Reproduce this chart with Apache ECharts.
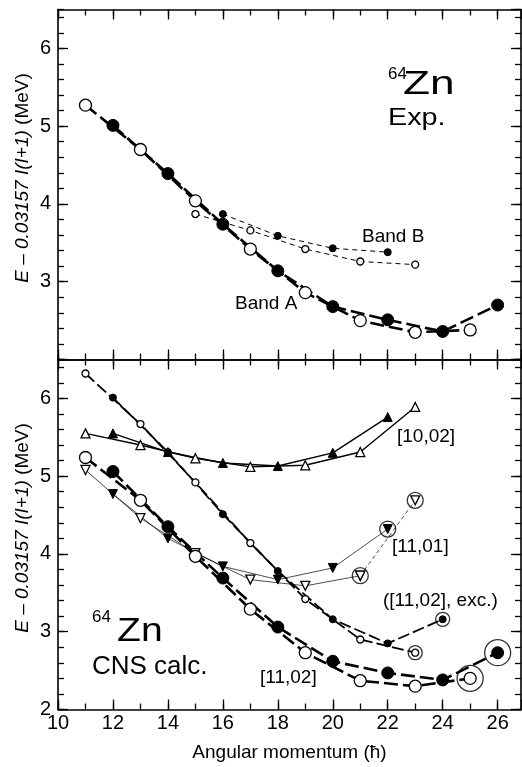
<!DOCTYPE html>
<html lang="en">
<head>
<meta charset="UTF-8">
<title>64Zn bands</title>
<script src="https://cdn.jsdelivr.net/npm/echarts@6.0.0/dist/echarts.min.js"></script>
<style>
  html, body { margin: 0; padding: 0; background: #fff; }
  #main { width: 522px; height: 767px; }
</style>
</head>
<body>
<div id="main"></div>
<script>
// ---- data: spin I and E - 0.03157 I(I+1) in MeV ----
// Exp. (top panel)
var bandA_odd_I = [11, 13, 15, 17, 19, 21, 23, 25];
var bandA_odd_E = [5.27, 4.70, 4.04, 3.42, 2.86, 2.50, 2.35, 2.38];
var bandA_even_I = [12, 14, 16, 18, 20, 22, 24, 26];
var bandA_even_E = [5.01, 4.39, 3.74, 3.14, 2.68, 2.51, 2.36, 2.70];
var bandB_odd_I = [15, 17, 19, 21, 23];
var bandB_odd_E = [3.87, 3.66, 3.42, 3.26, 3.22];
var bandB_even_I = [16, 18, 20, 22];
var bandB_even_E = [3.87, 3.59, 3.43, 3.38];

// CNS calc. (bottom panel)
var c1102_odd_I = [11, 13, 15, 17, 19, 21, 23, 25];
var c1102_odd_E = [5.24, 4.69, 3.97, 3.29, 2.73, 2.37, 2.30, 2.40];
var c1102_even_I = [12, 14, 16, 18, 20, 22, 24, 26];
var c1102_even_E = [5.06, 4.35, 3.69, 3.06, 2.62, 2.47, 2.38, 2.73];
var exc_odd_I = [11, 13, 15, 17, 19, 21, 23];
var exc_odd_E = [6.32, 5.67, 4.92, 4.14, 3.42, 2.90, 2.73];
var exc_even_I = [12, 14, 16, 18, 20, 22, 24];
var exc_even_E = [6.01, 5.31, 4.51, 3.78, 3.16, 2.85, 3.16];
var c1002_odd_I = [11, 13, 15, 17, 19, 21, 23];
var c1002_odd_E = [5.55, 5.40, 5.23, 5.12, 5.14, 5.31, 5.89];
var c1002_even_I = [12, 14, 16, 18, 20, 22];
var c1002_even_E = [5.55, 5.31, 5.17, 5.13, 5.30, 5.76];
var c1101_odd_I = [11, 13, 15, 17, 19, 21, 23];
var c1101_odd_E = [5.08, 4.46, 4.01, 3.67, 3.59, 3.72, 4.69];
var c1101_even_I = [12, 14, 16, 18, 20, 22];
var c1101_even_E = [4.77, 4.20, 3.84, 3.67, 3.82, 4.32];

// states drawn with an extra ring
var ring1101_I = [21, 22, 23];
var ringExc_I = [23, 24];
var ring1102_I = [25, 26];

var yTicks = [2, 3, 4, 5, 6];
var xTicks = [10, 12, 14, 16, 18, 20, 22, 24, 26];

var FONT = '"Liberation Sans", Arial, sans-serif';
var XMAX = 26.85;

function pts(xs, ys) {
    return xs.map(function (x, i) { return [x, ys[i]]; });
}
function pick(xs, ys, which) {
    var out = [];
    xs.forEach(function (x, i) { if (which.indexOf(x) >= 0) out.push([x, ys[i]]); });
    return out;
}
function ax(base, extra) {
    return Object.assign({}, base, extra);
}

var tickStyle = {color: '#000', width: 1.3};
var lineStyleAxis = {color: '#000', width: 1.6};

function xAxes(g, withLabels) {
    var base = {gridIndex: g, type: 'value', min: 10, max: XMAX, splitLine: {show: false},
        axisLine: {show: false}, axisLabel: {show: false}};
    return [
        ax(base, {position: 'bottom', interval: 1, axisLine: {show: true, onZero: false, lineStyle: lineStyleAxis},
            axisTick: {inside: true, length: 6, lineStyle: tickStyle},
            axisLabel: {show: withLabels, margin: 4, color: '#000', fontFamily: FONT, fontSize: 20,
                showMaxLabel: false,
                formatter: function (v) { return xTicks.indexOf(v) >= 0 ? String(v) : ''; }},
            name: withLabels ? 'Angular momentum (ħ)' : '', nameLocation: 'middle', nameGap: 34,
            nameTextStyle: {color: '#000', fontFamily: FONT, fontSize: 19}}),
        ax(base, {position: 'bottom', interval: 2, axisTick: {inside: true, length: 10, lineStyle: tickStyle}}),
        ax(base, {position: 'top', interval: 1, axisLine: {show: true, onZero: false, lineStyle: lineStyleAxis},
            axisTick: {inside: true, length: 6, lineStyle: tickStyle}}),
        ax(base, {position: 'top', interval: 2, axisTick: {inside: true, length: 10, lineStyle: tickStyle}})
    ];
}

function yAxes(g, hideMin) {
    var base = {gridIndex: g, type: 'value', min: 2, max: 6.5, splitLine: {show: false},
        axisLine: {show: false}, axisLabel: {show: false}};
    return [
        ax(base, {position: 'left', interval: 0.2, axisLine: {show: true, onZero: false, lineStyle: lineStyleAxis},
            axisTick: {inside: true, length: 6, lineStyle: tickStyle}}),
        ax(base, {position: 'left', interval: 1, axisTick: {inside: true, length: 10, lineStyle: tickStyle},
            axisLabel: {show: true, margin: 7, color: '#000', fontFamily: FONT, fontSize: 20,
                showMaxLabel: false,
                formatter: function (v) {
                    if (yTicks.indexOf(v) < 0) return '';
                    if (hideMin && v === 2) return '';
                    return String(v);
                }}}),
        ax(base, {position: 'right', interval: 0.2, axisLine: {show: true, onZero: false, lineStyle: lineStyleAxis},
            axisTick: {inside: true, length: 6, lineStyle: tickStyle}}),
        ax(base, {position: 'right', interval: 1, axisTick: {inside: true, length: 10, lineStyle: tickStyle}})
    ];
}

var OPEN = {color: '#fff', borderColor: '#000', borderWidth: 1.3};
var FILLED = {color: '#000', borderColor: '#000', borderWidth: 1};

function line(g, data, o) {
    return {
        type: 'line', xAxisIndex: g * 4, yAxisIndex: g * 4, data: data,
        symbol: o.symbol || 'circle', symbolSize: o.size, symbolRotate: o.rotate || 0,
        itemStyle: o.open ? OPEN : FILLED,
        lineStyle: {color: '#000', width: o.width, type: o.dash || 'solid'},
        animation: false, silent: true, z: o.z || 2
    };
}
function rings(g, data, size) {
    return {
        type: 'scatter', xAxisIndex: g * 4, yAxisIndex: g * 4, data: data,
        symbol: 'circle', symbolSize: size,
        itemStyle: {color: 'rgba(0,0,0,0)', borderColor: '#000', borderWidth: 1.3},
        animation: false, silent: true, z: 1
    };
}

var chart = echarts.init(document.getElementById('main'));

var labelStyle = function (txt, size) {
    return {text: txt, font: size + 'px ' + FONT, fill: '#000', textVerticalAlign: 'middle'};
};

var option = {
    backgroundColor: '#fff',
    animation: false,
    grid: [
        {left: 58, right: 1, top: 9.5, height: 350},
        {left: 58, right: 1, top: 359.5, height: 350}
    ],
    xAxis: xAxes(0, false).concat(xAxes(1, true)),
    yAxis: yAxes(0, true).concat(yAxes(1, false)),
    series: [
        // Exp.
        line(0, pts(bandB_odd_I, bandB_odd_E), {open: true, size: 7, width: 1, dash: [5, 4]}),
        line(0, pts(bandB_even_I, bandB_even_E), {open: false, size: 7, width: 1, dash: [5, 4]}),
        line(0, pts(bandA_odd_I, bandA_odd_E), {open: true, size: 12, width: 2.6, dash: [14, 5], z: 3}),
        line(0, pts(bandA_even_I, bandA_even_E), {open: false, size: 12, width: 2.6, dash: [14, 5], z: 3}),
        // CNS
        line(1, pts(c1002_odd_I, c1002_odd_E), {open: true, symbol: 'triangle', size: 9, width: 1.4}),
        line(1, pts(c1002_even_I, c1002_even_E), {open: false, symbol: 'triangle', size: 9, width: 1.4}),
        line(1, pts(c1101_odd_I.slice(0, 6), c1101_odd_E.slice(0, 6)), {open: true, symbol: 'triangle', rotate: 180, size: 9, width: 0.7}),
        line(1, pts(c1101_odd_I.slice(5), c1101_odd_E.slice(5)), {open: true, symbol: 'triangle', rotate: 180, size: 9, width: 0.7, dash: [4, 3]}),
        line(1, pts(c1101_even_I, c1101_even_E), {open: false, symbol: 'triangle', rotate: 180, size: 9, width: 0.7}),
        line(1, pts(exc_odd_I, exc_odd_E), {open: true, size: 7, width: 1.8, dash: [12, 4]}),
        line(1, pts(exc_even_I, exc_even_E), {open: false, size: 7, width: 1.8, dash: [12, 4]}),
        line(1, pts(c1102_odd_I, c1102_odd_E), {open: true, size: 12, width: 2.6, dash: [14, 5], z: 3}),
        line(1, pts(c1102_even_I, c1102_even_E), {open: false, size: 12, width: 2.6, dash: [14, 5], z: 3}),
        rings(1, pick(c1101_odd_I, c1101_odd_E, ring1101_I).concat(pick(c1101_even_I, c1101_even_E, ring1101_I)), 16),
        rings(1, pick(exc_odd_I, exc_odd_E, ringExc_I).concat(pick(exc_even_I, exc_even_E, ringExc_I)), 14),
        rings(1, pick(c1102_odd_I, c1102_odd_E, ring1102_I).concat(pick(c1102_even_I, c1102_even_E, ring1102_I)), 26)
    ],
    graphic: [
        {type: 'text', x: 23, y: 178, rotation: Math.PI / 2, style: {
            text: '{i|E} – {i|0.03157 I(I+1)} (MeV)', font: '19px ' + FONT, fill: '#000',
            textAlign: 'center', textVerticalAlign: 'middle',
            rich: {i: {fontStyle: 'italic', fontSize: 19, fontFamily: FONT}}}},
        {type: 'text', x: 23, y: 528, rotation: Math.PI / 2, style: {
            text: '{i|E} – {i|0.03157 I(I+1)} (MeV)', font: '19px ' + FONT, fill: '#000',
            textAlign: 'center', textVerticalAlign: 'middle',
            rich: {i: {fontStyle: 'italic', fontSize: 19, fontFamily: FONT}}}},
        {type: 'text', x: 388, y: 74, style: labelStyle('64', 17)},
        {type: 'text', x: 403, y: 85, scaleX: 1.3, style: labelStyle('Zn', 34)},
        {type: 'text', x: 388, y: 119, scaleX: 1.25, style: labelStyle('Exp.', 23)},
        {type: 'text', x: 362, y: 237, style: labelStyle('Band B', 19)},
        {type: 'text', x: 235, y: 304, style: labelStyle('Band A', 19)},
        {type: 'text', x: 397, y: 437, style: labelStyle('[10,02]', 19)},
        {type: 'text', x: 392, y: 547, style: labelStyle('[11,01]', 19)},
        {type: 'text', x: 383, y: 601, style: labelStyle('([11,02], exc.)', 19)},
        {type: 'text', x: 260, y: 678, style: labelStyle('[11,02]', 19)},
        {type: 'text', x: 92, y: 617, style: labelStyle('64', 17)},
        {type: 'text', x: 117, y: 632, scaleX: 1.15, style: labelStyle('Zn', 34)},
        {type: 'text', x: 92, y: 667, style: labelStyle('CNS calc.', 26)}
    ]
};

chart.setOption(option);
</script>
</body>
</html>
